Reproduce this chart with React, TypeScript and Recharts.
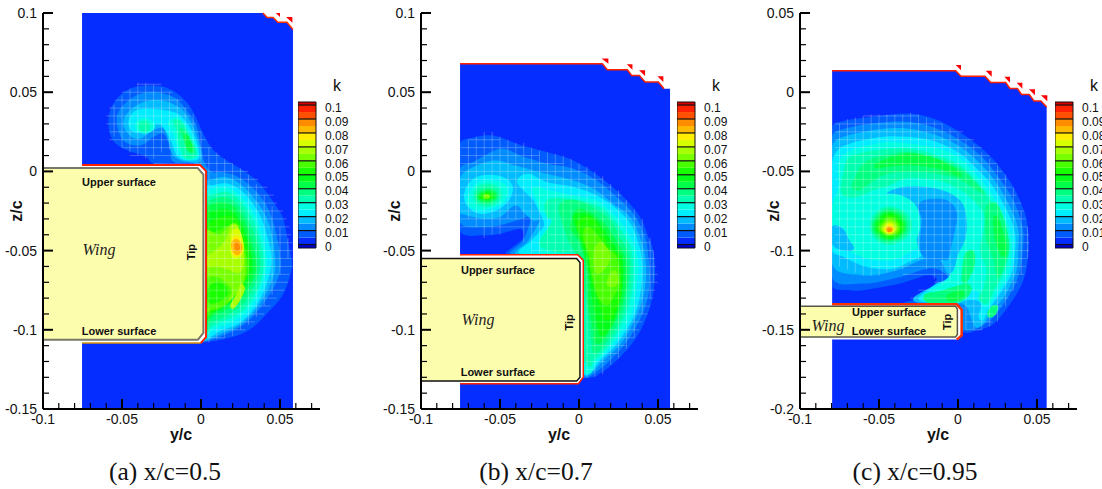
import React from 'react';
import { ScatterChart, Scatter, XAxis, YAxis, ReferenceArea } from 'recharts';

type Pair = [number, number];

/* ---------- colour scale of k ---------- */
const bandColors = ['#062dff', '#005cff', '#008cff', '#00bcff', '#00ecff', '#00ffe0', '#00ffb0', '#00ff80', '#00ff48', '#00ff18', '#18ff00', '#48ff00', '#78ff00', '#a8ff00', '#d8ff00', '#ffee00', '#ffb800', '#ff8c00', '#ff5000', '#ff2000'];
const legendEdges = [-0.0025, 0, 0.005, 0.01, 0.015, 0.02, 0.025, 0.03, 0.035, 0.04, 0.045, 0.05, 0.055, 0.06, 0.065, 0.07, 0.075, 0.08, 0.085, 0.09, 0.095, 0.1, 0.1022];
const legendFill = ['#0000d0', ...bandColors, '#d80000'];
const legendTicks = [0, 0.01, 0.02, 0.03, 0.04, 0.05, 0.06, 0.07, 0.08, 0.09, 0.1];

/* ---------- axes ---------- */
const yCTicks = [-0.1, -0.09, -0.08, -0.07, -0.06, -0.05, -0.04, -0.03, -0.02, -0.01, 0, 0.01, 0.02, 0.03, 0.04, 0.05, 0.06, 0.07];
const yCMajor = [-0.1, -0.05, 0, 0.05];
const zTicksAB = [-0.15, -0.14, -0.13, -0.12, -0.11, -0.1, -0.09, -0.08, -0.07, -0.06, -0.05, -0.04, -0.03, -0.02, -0.01, 0, 0.01, 0.02, 0.03, 0.04, 0.05, 0.06, 0.07, 0.08, 0.09, 0.1];
const zMajorAB = [-0.15, -0.1, -0.05, 0, 0.05, 0.1];
const zTicksC = [-0.2, -0.19, -0.18, -0.17, -0.16, -0.15, -0.14, -0.13, -0.12, -0.11, -0.1, -0.09, -0.08, -0.07, -0.06, -0.05, -0.04, -0.03, -0.02, -0.01, 0, 0.01, 0.02, 0.03, 0.04, 0.05];
const zMajorC = [-0.2, -0.15, -0.1, -0.05, 0, 0.05];

/* All contour coordinates below are [y/c, z/c] in thousandths. */

/* ---------- panel (a) x/c=0.5 ---------- */
const aField: Pair[] = [[-75.3, 100], [39.2, 100], [41.8, 97.2], [45.6, 97.2], [48.7, 94.1], [54.4, 94.1], [58.2, 89.6], [58.2, -150], [-75.3, -150]];
const aMask: Pair[] = [[-100, 100], [-75.3, 100], [-75.3, -150], [-100, -150]];
const aStairs: Pair[] = [[39.2, 100], [41.8, 97.2], [45.6, 97.2], [48.7, 94.1], [54.4, 94.1], [58.2, 89.6]];
const aFlags: Pair[][] = [[[47.3, 100], [50, 100], [50, 97.4]], [[53.8, 97.4], [57.8, 97.4], [57.8, 93.9]]];
const aOutline: Pair[] = [[-75.3, 4], [-0.6, 4], [3.2, 0.2], [3.2, -104.6], [-0.2, -108.4], [-75.3, -108.4]];
const aRed: Pair[] = [[-75.3, 4], [-0.6, 4], [3.2, 0.2], [3.2, -104.6], [-0.2, -108.4]];
const aOrange: Pair[] = [[-0.2, -108.4], [-75.3, -108.4]];
const aWing: Pair[] = [[-100, 2.1], [-2, 2.1], [1.5, -2], [1.5, -102], [-2, -106.3], [-100, -106.3]];

const aL1: Pair[] = [[-58.6, 32.2], [-55.5, 42.7], [-47, 51.2], [-35.4, 54.3], [-21.7, 52.8], [-11.2, 45.9], [-4.9, 37.5], [1.5, 23.8], [7.8, 13.3], [16.2, 6.9], [26.8, 0.6], [37.3, -7.8], [47.9, -22.5], [52.1, -30], [55.7, -47.8], [57.4, -60.4], [52.1, -77.3], [41.6, -89.9], [30, -100.4], [15.2, -105.7], [1.5, -107.8], [-5, -105], [-5, -10], [-0.6, 4.8], [-30, 4.8], [-35, 9.5], [-47, 13.5], [-56, 20]];
const aL2: Pair[] = [[-53.4, 32.2], [-50.2, 40.6], [-40.7, 48], [-30.2, 50.1], [-17.5, 46.9], [-9.1, 38.5], [-2.7, 28], [0.4, 13.3], [2.5, 4.8], [6.8, -0.4], [13, -0.4], [23.6, -3.6], [36.3, -14.1], [44.7, -28.8], [50, -52], [49, -66.7], [39.5, -83.6], [27.8, -96.2], [14, -103.6], [0.4, -107.8], [-5, -105], [-5, -5], [-3, 4.5], [-17.5, 6], [-19.6, 15.4], [-23.8, 23.8], [-30.2, 21.7], [-38.6, 16.4], [-49.2, 19.6]];
const aU3: Pair[] = [[-49.2, 30.1], [-46, 37.5], [-36.5, 43.8], [-24.9, 44.8], [-14.3, 40.6], [-7, 32.2], [-1.7, 19.6], [-0.2, 7], [-9, 5.9], [-17.5, 10], [-20.7, 19.6], [-23.8, 27], [-30.2, 25.9], [-38.6, 20.6], [-45, 22.7]];
const aU4: Pair[] = [[-46, 30.1], [-42.8, 37.5], [-34.4, 39.6], [-21.7, 38.5], [-13.3, 35.4], [-4.9, 23.8], [-1.1, 9], [-9.1, 7], [-15.4, 10.1], [-19.6, 20.6], [-24.9, 29], [-30.2, 29], [-36.5, 24.8], [-42.8, 24.8]];
const aU5a: Pair[] = [[-41.8, 28.4], [-36.5, 33.9], [-29.1, 29], [-35.4, 23.8]];
const aU5b: Pair[] = [[-20.7, 31.2], [-13.3, 33.3], [-5.9, 21.7], [-1.7, 10], [-10.1, 7.4], [-14.3, 13.3], [-17.5, 23.8]];
const aU6a: Pair[] = [[-39.7, 28.4], [-36, 32.2], [-31.9, 28.4], [-35.9, 24.8]];
const aU6b: Pair[] = [[-17.5, 32.2], [-12.2, 31.2], [-5.9, 20.6], [-2.7, 11.2], [-9.1, 8], [-13.3, 15.4], [-15.4, 25.9]];
const aU7: Pair[] = [[-13.3, 26.9], [-9.1, 23.8], [-4.9, 15.4], [-4.9, 11.2], [-9.1, 13.3], [-11.2, 19.6]];
const aU8: Pair[] = [[-10, 23.5], [-6, 18], [-5, 13], [-8, 13], [-10, 18]];
const aD3: Pair[] = [[4.6, -5.7], [15.2, -3.6], [25.7, -8.8], [36.3, -20.4], [43.7, -35.2], [46.8, -54], [45.8, -66.7], [37.3, -83.6], [25.7, -96.2], [13, -102.5], [0.4, -107.8], [-5, -105], [-5, -5]];
const aD4: Pair[] = [[5.7, -8.8], [17.3, -7.8], [27.8, -14.1], [37.3, -27.8], [42.6, -43.6], [44.7, -56.2], [41.6, -70.9], [34.2, -85.7], [23.6, -96.2], [13, -100.4], [1.5, -106.7], [-5, -105], [-5, -8]];
const aD5: Pair[] = [[4.6, -12], [14.1, -9.9], [24.7, -15.2], [35.2, -29.9], [40.5, -47.8], [41.6, -60.4], [37.3, -75.2], [30, -87.8], [19.4, -95.2], [8.9, -99.4], [1.5, -104.6], [-4, -100], [-4, -14]];
const aD6: Pair[] = [[4.6, -15.2], [15.2, -13], [23.6, -17.3], [33.1, -31], [38.4, -47.8], [39.5, -60.4], [36.3, -73], [27.8, -86.7], [17.3, -93], [7.8, -97.3], [2.5, -102.5], [-4, -98], [-4, -16]];
const aD7: Pair[] = [[4.6, -18.3], [14.1, -16.2], [22.8, -20.4], [31, -33], [36.3, -48.8], [37.3, -60.4], [34.2, -70.9], [26.8, -83.6], [16.2, -90.9], [6.8, -95.2], [3, -100.4], [-4, -96], [-4, -19]];
const aD8: Pair[] = [[4.2, -21.5], [13, -19.4], [21.5, -22.5], [28.9, -34.1], [33.1, -48.8], [35.2, -60.4], [32.1, -69.9], [24.7, -81.5], [15.2, -87.8], [6.8, -92], [3.4, -96.2], [-4, -92], [-4, -22]];
const aD9: Pair[] = [[4.2, -25.7], [13, -23.6], [20.5, -25.7], [26.8, -35.2], [31, -48.8], [32.5, -60.4], [30, -68.8], [22.6, -79.4], [14.1, -85.7], [6.8, -90], [3.4, -94], [-4, -90], [-4, -26]];
const aD10: Pair[] = [[4.2, -33], [12, -28.8], [20.5, -28.8], [25.7, -36.2], [29.5, -48.8], [31, -60.4], [27.8, -68.8], [21.1, -77.3], [14.1, -85], [7, -89], [3.4, -92], [-4, -88], [-4, -34]];
const aD11: Pair[] = [[4.2, -39.4], [11, -37.3], [17.3, -34.1], [23.6, -35.2], [27.8, -48.8], [29.5, -60.4], [27, -71], [21, -79], [14, -85.5], [6, -88], [3, -90], [-4, -86], [-4, -40]];
const aD12: Pair[] = [[3.8, -37], [11, -40], [15.2, -37], [19.4, -33], [23.6, -34.1], [26.8, -47.8], [28, -60.4], [26, -72], [21, -79], [14, -84.5], [6, -87], [3.5, -88], [-4, -85], [-4, -40]];
const aD13: Pair[] = [[15.2, -43.6], [19.4, -34], [23.6, -35], [26.8, -47.8], [27, -58.3], [24, -64], [17, -62], [10, -60], [4, -60], [3.5, -54], [9, -50]];
const aPocketOuter: Pair[] = [[3.8, -66.7], [11, -66.7], [19, -74], [18, -80], [13, -85.7], [4.6, -86.7], [-3, -85], [-3, -68]];
const aPocketInner: Pair[] = [[4.6, -74], [11, -69.9], [17.3, -76.2], [11, -82.5], [4.6, -82.5]];
const aArm: Pair[] = [[25.3, -71], [27.8, -74], [24.7, -81.5], [20.5, -86.7], [18.4, -84.6], [22.6, -77.3]];
const aP14: Pair[] = [[18.4, -46.7], [21.5, -36.2], [26.8, -44.6], [25.7, -53], [20.5, -55.2]];
const aP15: Pair[] = [[19, -46.7], [22, -40.4], [26, -46], [25.3, -52], [20.5, -53]];
const aP16: Pair[] = [[19, -47], [22.1, -42.5], [26.3, -47.8], [22.6, -53]];
const aP17: Pair[] = [[21.1, -47.4], [22.6, -44.6], [24.7, -48.2], [22.6, -50.3]];

const aLayers: [number, Pair[]][] = [[1, aL1], [2, aL2], [3, aU3], [4, aU4], [5, aU5a], [5, aU5b], [6, aU6a], [6, aU6b], [7, aU7], [8, aU8], [3, aD3], [4, aD4], [5, aD5], [6, aD6], [7, aD7], [8, aD8], [9, aD9], [10, aD10], [11, aD11], [12, aD12], [13, aD13], [11, aPocketOuter], [10, aPocketInner], [13, aArm], [14, aP14], [15, aP15], [16, aP16], [17, aP17]];

const aMeshH = [[55, -40, -25], [50, -50, -18], [45, -54, -12], [40, -58, -8], [35, -60, -6], [30, -60, -3], [25, -58, 0], [20, -58, 3], [15, -50, 7], [10, -45, 12], [5, -30, 20], [0, 5, 30], [-5, 5, 36], [-10, 5, 42], [-15, 5, 46], [-20, 5, 48], [-25, 5, 52], [-30, 5, 54], [-35, 5, 56], [-40, 5, 57], [-45, 5, 58], [-50, 5, 58], [-55, 5, 59], [-60, 5, 58], [-65, 5, 56], [-70, 5, 55], [-75, 5, 53], [-80, 5, 48], [-85, 5, 44], [-90, 5, 40], [-95, 5, 34], [-100, 5, 28], [-105, 5, 15]];
const aMeshV = [[-55, 22, 42], [-50, 15, 48], [-45, 12, 52], [-40, 10, 56], [-35, 8, 56], [-30, 8, 55], [-25, 12, 53], [-20, 14, 50], [-15, 10, 46], [-10, 8, 40], [-5, 8, 36], [0, 5, 25], [5, -108, 15], [10, -106, 12], [15, -105, 8], [20, -104, 5], [25, -100, 2], [30, -97, -2], [35, -92, -8], [40, -85, -15], [45, -78, -22], [50, -65, -35], [55, -55, -42]];

const aLabels = [
  { y: -0.0519, z: -0.007, text: 'Upper surface', kind: 'bold' },
  { y: -0.0519, z: -0.101, text: 'Lower surface', kind: 'bold' },
  { y: -0.0646, z: -0.0499, text: 'Wing', kind: 'wing' },
  { y: -0.0063, z: -0.051, text: 'Tip', kind: 'tip' },
];

/* ---------- panel (b) x/c=0.7 ---------- */
const bField: Pair[] = [[-75.3, 68], [14.8, 68], [17.9, 64.2], [30.6, 64.2], [33.3, 60.6], [38.2, 60.6], [41.8, 56.4], [50.2, 56.4], [53.8, 52.2], [57.6, 52.2], [57.6, -150], [-75.3, -150]];
const bMask: Pair[] = [[-100, 68], [-75.3, 68], [-75.3, -150], [-100, -150]];
const bStairs: Pair[] = [[-75.3, 68], [14.8, 68], [17.9, 64.2], [30.6, 64.2], [33.3, 60.6], [38.2, 60.6], [41.8, 56.4], [50.2, 56.4], [53.8, 52.2]];
const bFlags: Pair[][] = [[[14.3, 71.2], [18.6, 71.2], [18.6, 68]], [[30.2, 67.6], [33.8, 67.6], [33.8, 64.2]], [[38, 63.8], [41.8, 63.8], [41.8, 60.2]], [[49.6, 60], [53.4, 60], [53.4, 56.4]]];
const bOutline: Pair[] = [[-75.3, -52.6], [-0.8, -52.6], [2.7, -56.2], [2.7, -130], [-0.4, -134], [-75.3, -134]];
const bRed: Pair[] = [[-75.3, -52.6], [-0.8, -52.6], [2.7, -56.2], [2.7, -130], [-0.4, -134], [-75.3, -134]];
const bWing: Pair[] = [[-100, -55], [-1.5, -55], [0.6, -57.5], [0.6, -130], [-1.5, -132.4], [-100, -132.4]];

const bL1: Pair[] = [[-75.3, 17.5], [-67.9, 21.3], [-54.2, 22.7], [-39.5, 17.5], [-20.5, 12.2], [-3.6, 6.9], [13.3, -3.6], [28.1, -16.2], [38.6, -28.8], [43.9, -41.5], [47, -49.9], [48.1, -66.7], [44.9, -85.7], [36.5, -104.6], [23.8, -119.4], [11.2, -128.8], [3.2, -130], [0, -125], [0, -55], [-1.5, -52.6], [-45.8, -52], [-40.5, -46.7], [-35.2, -41.5], [-37.3, -36.2], [-50, -39.4], [-60.5, -40.4], [-75.3, -37.3]];
const bL2: Pair[] = [[-75.3, 1.7], [-66.9, 5.9], [-50, 14.3], [-37.3, 10.1], [-20.5, 5], [-3.6, 1.7], [11.2, -5.7], [23.8, -16.2], [34.4, -26.7], [41.8, -41.5], [43.9, -54], [44.9, -68.8], [41.8, -85.7], [32.3, -104.6], [19.6, -119.4], [7, -129.5], [2.7, -130], [0, -125], [0, -58], [-0.4, -52.6], [-42.6, -52.6], [-35.2, -43.5], [-31, -32], [-32, -28.8], [-39.5, -31], [-50, -34], [-60.5, -35.2], [-75.3, -32]];
const bL3: Pair[] = [[-75.3, -4.6], [-68.9, 1.7], [-54.2, 6.9], [-40.5, 3.8], [-20.5, -1.5], [-3.6, -5.7], [9.1, -10.9], [21.7, -20.4], [32.3, -28.8], [38.6, -41.5], [41.8, -54], [42.3, -68.8], [38.6, -85.7], [28, -106.7], [15.4, -119.4], [5.9, -128.8], [0, -125], [0, -58], [-1.5, -53.7], [-39.5, -52.6], [-32, -43.5], [-24.7, -31], [-28.9, -31], [-34.2, -26.7], [-40.5, -21.5], [-50, -28.8], [-60.5, -29.9], [-71, -27.8], [-75.3, -25.7]];
const bV4: Pair[] = [[-72.2, -12], [-64.8, -3.6], [-52.1, -2.5], [-42.6, -7.8], [-43.7, -17.3], [-52.1, -24.6], [-62.7, -26.7], [-71.1, -21.5]];
const bA4: Pair[] = [[-39, -5.7], [-32, -1.5], [-20.5, -6.7], [-3.6, -9.9], [11.2, -15.2], [23.8, -23.6], [33.3, -34.1], [37.6, -45.7], [39.7, -54], [39.7, -71], [35.4, -89.9], [24.9, -107.7], [13.3, -119.4], [5.9, -128.2], [0, -125], [0, -58], [-3, -55], [-37.3, -52], [-30, -43.5], [-22.6, -35.2], [-22.6, -31], [-28.9, -18.3], [-35.2, -12]];
const bV5: Pair[] = [[-70, -15.2], [-63.7, -6.7], [-53.2, -5.7], [-45.4, -9.9], [-46.8, -18.3], [-53.2, -22.5], [-62.7, -24.6], [-69.9, -21.5]];
const bA5: Pair[] = [[-28.9, -9.9], [-18.4, -12], [-3.6, -15.2], [11.2, -18.3], [21.7, -26.7], [30.2, -37.3], [35.4, -47.8], [37.6, -58.3], [36.5, -73], [32.3, -91.9], [21.7, -108.8], [11.2, -120.4], [5.9, -127.8], [0, -120], [0, -60], [-23.6, -52], [-24.7, -42.5], [-17.3, -31], [-24.7, -24.6], [-26.8, -18.3]];
const bV6: Pair[] = [[-66.9, -15.2], [-62.7, -8.8], [-54.2, -8.2], [-48.9, -13], [-51, -19.4], [-58.4, -22.5], [-64.8, -20.4]];
const bA6: Pair[] = [[-20.5, -18.3], [-5.7, -17.3], [11.2, -21.5], [20.7, -28.8], [28.1, -39.4], [33.3, -49.9], [34.4, -62.5], [33.3, -77.2], [28.1, -94], [18.6, -110], [9.1, -119.4], [7, -123.5], [3, -118], [0, -60], [-1.5, -52], [-14, -51], [-24.7, -46.7], [-20.5, -37.2], [-17.3, -31], [-20.5, -28.8]];
const bA7: Pair[] = [[-12, -20.4], [-1.5, -18.3], [10.1, -23.6], [19.6, -30.9], [25.9, -41.5], [31.2, -52], [32.3, -62.5], [30.2, -79.4], [25.9, -94], [17.5, -107.7], [10.1, -115], [8, -108.8], [5.9, -94], [3.2, -73], [0.6, -58], [-6.8, -43.5], [-9.9, -35.2], [-11, -31]];
const bA8: Pair[] = [[-5.7, -35.2], [-2.5, -24.6], [4.9, -24.6], [15.4, -32], [22.8, -42.5], [29.1, -54], [30.2, -66.7], [28.1, -81.5], [23.8, -93], [17.5, -103.6], [11.2, -108.8], [9.1, -100.4], [5.9, -83.6], [4.9, -62.5], [0.6, -45.7], [-3.6, -39.4]];
const bA9: Pair[] = [[-3.6, -28.8], [4.9, -26.7], [13.3, -33], [21.7, -45.7], [27.6, -56.2], [27.6, -73], [24.5, -87.8], [18.6, -100.4], [13.3, -103.6], [9.1, -85.7], [5.9, -62.5], [1.7, -45.7]];
const bA10: Pair[] = [[-1.5, -32], [7, -28.8], [13.3, -36.2], [19.6, -47.8], [25.9, -54], [26.9, -75], [23.8, -86.7], [17.5, -94], [13.3, -85.7], [8, -68.8], [5.9, -54], [1.7, -43.5]];
const bA11: Pair[] = [[4.9, -35], [11.2, -39.4], [17.5, -47.8], [23.8, -54], [25.9, -70.9], [21.7, -79.4], [17.5, -84.6], [12.2, -79.4], [8, -64.6], [5.9, -52], [2.7, -41.5]];
const bA12a: Pair[] = [[10.1, -47.7], [14.3, -44.6], [19.6, -52], [18.6, -58.3], [15.4, -62.5], [11.2, -64.6], [9.1, -56.2]];
const bA12b: Pair[] = [[17.5, -70.9], [21.7, -62.5], [24.9, -68.8], [21.7, -73]];
const bV7: Pair[] = [[-65.2, -15.2], [-60.5, -10.9], [-54.2, -10.9], [-51, -15.2], [-54.2, -19.4], [-60.5, -20.4]];
const bV8: Pair[] = [[-64.3, -15.8], [-59.5, -12], [-54.6, -12.4], [-52.1, -15.8], [-55.3, -18.7], [-60.5, -19.2]];
const bV9: Pair[] = [[-63.3, -15.8], [-58.9, -13], [-55.3, -13.7], [-53.4, -15.8], [-56.3, -17.7], [-60.5, -17.9]];
const bV10: Pair[] = [[-62, -15.8], [-58.4, -13.7], [-55.3, -15.2], [-56.3, -17], [-60.1, -17.5]];
const bV12: Pair[] = [[-60.5, -15.8], [-58.4, -14.5], [-56.3, -15.8], [-58.4, -17.3]];

const bLayers: [number, Pair[]][] = [[1, bL1], [2, bL2], [3, bL3], [4, bV4], [4, bA4], [5, bV5], [5, bA5], [6, bV6], [6, bA6], [7, bA7], [8, bA8], [9, bA9], [10, bA10], [11, bA11], [12, bA12a], [12, bA12b], [7, bV7], [8, bV8], [9, bV9], [10, bV10], [12, bV12]];

const bMeshH = [[20, -70, -50], [15, -75, -35], [10, -75, -25], [5, -75, -10], [0, -75, 5], [-5, -75, 15], [-10, -75, 20], [-15, -75, 27], [-20, -75, 30], [-25, -75, 33], [-30, -75, 37], [-35, -75, 40], [-40, -20, 43], [-45, -30, 45], [-50, -30, 47], [-55, 5, 48], [-60, 5, 49], [-65, 5, 50], [-70, 5, 50], [-75, 5, 48], [-80, 5, 47], [-85, 5, 45], [-90, 5, 43], [-95, 5, 40], [-100, 5, 38], [-105, 5, 35], [-110, 5, 30], [-115, 5, 25], [-120, 5, 17], [-125, 5, 10]];
const bMeshV = [[-70, -30, 20], [-65, -35, 22], [-60, -42, 25], [-55, -40, 25], [-50, -40, 22], [-45, -30, 20], [-40, -30, 18], [-35, -45, 18], [-30, -52, 15], [-25, -52, 13], [-20, -52, 12], [-15, -52, 11], [-10, -52, 10], [-5, -52, 8], [0, -52, 5], [5, -130, 3], [10, -130, 0], [15, -128, -3], [20, -122, -8], [25, -118, -12], [30, -112, -18], [35, -105, -24], [40, -90, -30], [45, -80, -42], [47, -70, -50]];

const bLabels = [
  { y: -0.0513, z: -0.0625, text: 'Upper surface', kind: 'bold' },
  { y: -0.0513, z: -0.1269, text: 'Lower surface', kind: 'bold' },
  { y: -0.0639, z: -0.094, text: 'Wing', kind: 'wing' },
  { y: -0.0063, z: -0.0953, text: 'Tip', kind: 'tip' },
];

/* ---------- panel (c) x/c=0.95 ---------- */
const cField: Pair[] = [[-79.7, 13.5], [-1.5, 13.5], [1.9, 10.1], [17.1, 10.1], [20.7, 6.1], [30.2, 6.1], [32.9, 2.3], [37.6, 2.3], [40.3, -1.5], [45.1, -1.5], [48.1, -5.5], [52.5, -5.5], [56.1, -9.3], [56.1, -200], [-79.7, -200]];
const cMask: Pair[] = [[-100, 50], [-79.7, 50], [-79.7, -200], [-100, -200]];
const cStairs: Pair[] = [[-79.7, 13.5], [-1.5, 13.5], [1.9, 10.1], [17.1, 10.1], [20.7, 6.1], [30.2, 6.1], [32.9, 2.3], [37.6, 2.3], [40.3, -1.5], [45.1, -1.5], [48.1, -5.5], [52.5, -5.5], [56.1, -9.3]];
const cFlags: Pair[][] = [[[-1.5, 17.1], [1.9, 17.1], [1.9, 13.9]], [[17.5, 13.5], [21.3, 13.5], [21.3, 9.7]], [[29.3, 9.7], [32.9, 9.7], [32.9, 5.9]], [[37.1, 5.9], [40.7, 5.9], [40.7, 2.1]], [[44.9, 1.9], [48.7, 1.9], [48.7, -1.9]], [[52.5, -1.9], [56.5, -1.9], [56.5, -5.7]]];
const cOutline: Pair[] = [[-79.7, -133.9], [-0.8, -133.9], [2.3, -137.3], [2.3, -153.5], [-0.8, -156.2], [-79.7, -156.2]];
const cRed: Pair[] = [[-79.7, -133.9], [-0.8, -133.9], [2.3, -137.3], [2.3, -153.5], [-0.8, -156.2]];
const cWing: Pair[] = [[-100, -135.2], [-1.5, -135.2], [-0.4, -137], [-0.4, -153], [-1.5, -154.5], [-100, -154.5]];

const cL1: Pair[] = [[-79.7, -22.3], [-70.5, -17.7], [-51.5, -15.2], [-31.4, -13.5], [-15.6, -16.6], [-0.8, -24], [13.9, -34.5], [24.5, -45], [35, -59.8], [42.4, -76.6], [44.5, -89.3], [44.5, -101.9], [41.4, -118.7], [33, -133.5], [22.4, -146.3], [11.8, -150.5], [3.4, -151.6], [0, -145], [0, -134], [-33.5, -133.5], [-24, -129.3], [-13.5, -118.7], [-19.8, -115.6], [-36.7, -120.8], [-60, -125], [-68.3, -125], [-79.7, -121.9]];
const cL2: Pair[] = [[-79.7, -28.2], [-71.5, -22.9], [-51.5, -19.4], [-31.4, -18.7], [-13.5, -22.9], [1.3, -30.3], [15, -40.8], [25.5, -53.5], [35, -68.2], [40.3, -82.9], [41.4, -93.5], [39.2, -112.4], [33, -127.2], [22.4, -141.9], [13.9, -148.2], [5.5, -150.3], [0, -148], [0, -136], [-23, -130], [-13.5, -123], [-6.1, -118.7], [-11.4, -112.4], [-19.8, -111.4], [-36.7, -116.6], [-60, -120.8], [-79.7, -116.6]];
const cL3: Pair[] = [[-79.7, -34.5], [-72.6, -28.2], [-51.5, -23.6], [-32.5, -22.9], [-13.5, -27.2], [1.3, -34.5], [13.9, -45], [24.5, -57.7], [34, -74.5], [38.2, -87.2], [38.2, -97.7], [37, -112.4], [30.4, -127.2], [22.4, -137.7], [16, -146.3], [10.8, -148.2], [5.5, -135.6], [-0.8, -133], [-21.9, -133.5], [-28.3, -130.3], [-16.7, -122.9], [-6.1, -116.6], [-8.2, -110.3], [-13.5, -104], [-23.8, -106.1], [-38.6, -112.4], [-60, -115.6], [-79.7, -108.2]];
const cL4: Pair[] = [[-79.7, -45], [-73.6, -34.5], [-51.5, -28.6], [-31.4, -28.2], [-13.5, -31.4], [1.3, -38.7], [11.8, -48.2], [22.4, -59.8], [31.9, -76.6], [36.1, -89.3], [36.1, -99.8], [33.9, -114.5], [26.5, -127.2], [19.1, -137.7], [16, -144], [12.9, -141.9], [14, -133], [5.5, -131.3], [-0.8, -133.5], [-21.9, -132.4], [-25, -129.7], [-13.5, -120.8], [-5, -116.6], [-11.4, -100.8], [-28.3, -106], [-41, -111.4], [-57.9, -110.3], [-72.6, -103.9], [-79.7, -99.8]];
const cL5: Pair[] = [[-79.7, -72.4], [-75.7, -59.8], [-73.6, -40.8], [-51.5, -32.4], [-31.4, -32.4], [-12.4, -35.6], [1.3, -41.9], [11.8, -52.4], [20.3, -62.9], [29.7, -78.7], [34, -91.4], [34, -101.9], [31.9, -114.5], [24.5, -127.2], [17.1, -135.6], [13.9, -127.2], [5.5, -125], [1.3, -131.3], [-21.9, -131.3], [-19.8, -127.2], [-5, -115.4], [-7, -102], [-9, -93.5], [-13.5, -93.5], [-28.3, -99.8], [-41, -106], [-57.9, -105], [-72.6, -98.7], [-79.7, -95.6]];
const cLeftLobe: Pair[] = [[-79.7, -85], [-73, -86], [-69, -93], [-66, -99], [-72, -100], [-79.7, -96]];
const cPocketA: Pair[] = [[-45.1, -63.6], [-34.6, -59.8], [-13.5, -60.8], [1.3, -68.2], [5.5, -80.8], [4.4, -93.5], [0.2, -101.9], [-5, -114.5], [-11.4, -106.1], [-21.9, -103], [-26.2, -93.5], [-25, -82.9], [-28.3, -74.5], [-34.6, -68.2], [-40.9, -66.1]];
const cPocketB: Pair[] = [[-25.1, -71.4], [-19.8, -67.8], [-7.2, -68.2], [-0.8, -75.6], [-1.9, -87.2], [-6.1, -105.1], [-9.3, -106], [-21.9, -104], [-24, -93.5], [-23, -80.8]];
const cArc6: Pair[] = [[-73.6, -64], [-72.6, -51.4], [-68.4, -40.8], [-51.5, -36.6], [-31.4, -35.6], [-13.5, -39.8], [1.3, -46.1], [11.8, -56.6], [19.2, -66.1], [27.6, -80.8], [31.9, -93.5], [31.9, -104], [28.7, -114.5], [22.4, -126.1], [18.1, -133.5], [13, -130], [16, -124], [18, -112], [14, -100], [16, -88], [16, -76.6], [7.6, -66.1], [-1.9, -59.8], [-13.5, -55.6], [-32.5, -54.5], [-43, -58.7], [-53.6, -61.9], [-64, -66.1]];
const cArc7: Pair[] = [[-67.3, -59.8], [-64.1, -51.4], [-59.9, -45], [-51.5, -40.8], [-31.4, -37.7], [-13.5, -41.9], [1.3, -48.2], [11.8, -57.7], [16, -64], [1.3, -55.6], [-13.5, -51.4], [-32.5, -50.3], [-47.3, -52.4], [-62, -61.9]];
const cArc8: Pair[] = [[-52.5, -45], [-32.5, -38.6], [-13.5, -41.9], [1.3, -50.3], [1.3, -53.5], [-13.5, -48.2], [-32.5, -46.1], [-51.5, -48.2]];
const cRight7: Pair[] = [[18.1, -71.4], [24.5, -70.3], [29.7, -81.9], [32.5, -95.6], [31.9, -101.9], [27.7, -114.5], [24.5, -116.6], [22.4, -106], [18, -93.5], [17, -80.8]];
const cRight8: Pair[] = [[22.4, -78.7], [25.5, -78.7], [29.7, -91.4], [30.8, -97.7], [29, -104], [24.5, -97], [22.4, -86]];
const cMid7: Pair[] = [[4.4, -102], [9.7, -100], [10.8, -108.2], [7.6, -116.6], [3.4, -120.8], [2.3, -114.5]];
const cLow7: Pair[] = [[-21.9, -130.3], [-9.3, -125], [5.5, -120.8], [8.6, -125], [3.4, -131.3], [-7.2, -133.5]];
const cLow8: Pair[] = [[-7, -128], [1.3, -125], [4.4, -127], [1.3, -131], [-6, -132]];
const cSpot7: Pair[] = [[19.2, -137.7], [22.4, -134.5], [25.5, -135.6], [23.4, -140.8], [19.2, -141.9]];

const cV5: Pair[] = [[-43.5, -64], [-28, -70], [-24, -84], [-28, -94], [-43.5, -100], [-58, -95], [-66, -84], [-60, -70]];
const cV6: Pair[] = [[-43.5, -72], [-33, -76], [-29, -84], [-33, -92], [-43.5, -96.6], [-52, -93], [-56, -84], [-52, -76]];
const cV7: Pair[] = [[-43.5, -73.5], [-34.5, -77], [-31.4, -85], [-35, -91.5], [-43.5, -94.5], [-51, -92], [-54.6, -85], [-51, -77]];
const cV8: Pair[] = [[-43.5, -75], [-36, -78], [-33, -85], [-36, -91], [-43.5, -93.5], [-50, -91], [-53.6, -85], [-50, -78]];
const cV9: Pair[] = [[-43.5, -76], [-37, -79], [-34, -85], [-37, -90], [-43.5, -92.5], [-49, -90], [-52, -85], [-49, -79]];
const cV10: Pair[] = [[-43.5, -77.6], [-38, -80], [-35.6, -85.5], [-38, -90], [-43.5, -91.4], [-48, -89.5], [-51, -85.5], [-48, -80]];
const cV11: Pair[] = [[-43.5, -78.7], [-39, -81], [-36.7, -86], [-39, -89.5], [-43.5, -90.7], [-47.5, -89], [-50, -86], [-47, -81]];
const cV12: Pair[] = [[-43.5, -80.2], [-39.5, -82], [-37.7, -86], [-39.5, -89], [-43.5, -90.3], [-47, -89], [-49, -86], [-46.5, -82]];
const cV13: Pair[] = [[-43.5, -81.5], [-40, -83], [-38.7, -86.5], [-43.5, -89.7], [-48, -86.5], [-46, -83]];
const cV14: Pair[] = [[-43.5, -82.5], [-39.6, -86.5], [-43.5, -89.3], [-47.3, -86.5]];
const cV15: Pair[] = [[-43.5, -83.6], [-40.5, -86.5], [-43.5, -88.8], [-46.3, -86.5]];
const cV16: Pair[] = [[-43.5, -84.6], [-41, -86.5], [-43.5, -88.6], [-45.7, -86.5]];
const cV17: Pair[] = [[-43.5, -85.5], [-41.7, -87], [-43.5, -88.4], [-45, -87]];

const cLayers: [number, Pair[]][] = [[1, cL1], [2, cL2], [3, cL3], [4, cL4], [5, cL5], [3, cLeftLobe], [3, cPocketA], [2, cPocketB], [6, cArc6], [7, cArc7], [8, cArc8], [7, cRight7], [8, cRight8], [7, cMid7], [7, cLow7], [8, cLow8], [7, cSpot7], [5, cV5], [6, cV6], [7, cV7], [8, cV8], [9, cV9], [10, cV10], [11, cV11], [12, cV12], [13, cV13], [14, cV14], [15, cV15], [16, cV16], [17, cV17]];

const cMeshH = [[-15, -60, -25], [-20, -78, -10], [-25, -78, 3], [-30, -78, 10], [-35, -78, 15], [-40, -78, 20], [-45, -78, 25], [-50, -78, 28], [-55, -78, 31], [-60, -78, 34], [-65, -78, 37], [-70, -78, 40], [-75, -78, 42], [-80, -78, 43], [-85, -78, 44], [-90, -78, 45], [-95, -78, 45], [-100, -78, 45], [-105, -75, 44], [-110, -55, 43], [-115, -35, 42], [-120, -15, 38], [-125, -25, 35], [-130, -30, 32], [-135, 5, 28], [-140, 5, 25], [-145, 5, 22], [-150, 5, 15]];
const cMeshV = [[-75, -110, -20], [-70, -112, -17], [-65, -114, -16], [-60, -116, -15], [-55, -116, -14], [-50, -116, -14], [-45, -114, -14], [-40, -113, -14], [-35, -112, -14], [-30, -108, -13], [-25, -106, -14], [-20, -112, -16], [-15, -118, -18], [-10, -122, -20], [-5, -120, -23], [0, -133, -26], [5, -150, -30], [10, -150, -33], [15, -150, -38], [20, -148, -42], [25, -145, -46], [30, -135, -52], [35, -125, -60], [40, -115, -75], [44, -105, -85]];

const cLabels = [
  { y: -0.0437, z: -0.1389, text: 'Upper surface', kind: 'bold' },
  { y: -0.0437, z: -0.1509, text: 'Lower surface', kind: 'bold' },
  { y: -0.0823, z: -0.1477, text: 'Wing', kind: 'wing' },
  { y: -0.007, z: -0.145, text: 'Tip', kind: 'tip' },
];

/* ---------- helpers ---------- */
const toPts = (pairs: Pair[]) => pairs.map(([y, z]) => ({ y: y / 1000, z: z / 1000 }));

/* Closed smooth path whose handles never outgrow the shorter neighbouring chord, so it cannot overshoot. */
const closedPath = (pts: { x: number; y: number }[], smooth: boolean) => {
  const n = pts.length;
  if (!smooth) return 'M' + pts.map((p) => `${p.x},${p.y}`).join('L') + 'Z';
  const dist = (a: any, b: any) => Math.hypot(a.x - b.x, a.y - b.y) || 1;
  const handle = (i: number) => {
    const prev = pts[(i - 1 + n) % n];
    const cur = pts[i];
    const next = pts[(i + 1) % n];
    const len = dist(prev, next);
    const m = Math.min(dist(prev, cur), dist(cur, next)) * 0.36;
    return { x: ((next.x - prev.x) / len) * m, y: ((next.y - prev.y) / len) * m };
  };
  let d = `M${pts[0].x},${pts[0].y}`;
  for (let i = 0; i < n; i++) {
    const a = pts[i];
    const b = pts[(i + 1) % n];
    const ha = handle(i);
    const hb = handle((i + 1) % n);
    d += `C${a.x + ha.x},${a.y + ha.y} ${b.x - hb.x},${b.y - hb.y} ${b.x},${b.y}`;
  }
  return d + 'Z';
};

const noDot = () => <g />;

const filled = (key: string, pairs: Pair[], fill: string, smooth = true, stroke = 'none', sw = 0) => (
  <Scatter
    key={key}
    data={toPts(pairs)}
    dataKey="z"
    isAnimationActive={false}
    shape={noDot}
    line={(p: any) => <path d={closedPath(p.points, smooth)} fill={fill} stroke={stroke} strokeWidth={sw} strokeLinejoin="round" />}
  />
);

const open = (key: string, pairs: Pair[], stroke: string, sw: number) => (
  <Scatter
    key={key}
    data={toPts(pairs)}
    dataKey="z"
    isAnimationActive={false}
    shape={noDot}
    line={(p: any) => <path d={'M' + p.points.map((q: any) => `${q.x},${q.y}`).join('L')} fill="none" stroke={stroke} strokeWidth={sw} />}
  />
);

const meshScatter = (key: string, h: number[][], v: number[][]) => {
  const ends: Pair[] = [];
  h.forEach(([z, a, b]) => { ends.push([a, z], [b, z]); });
  v.forEach(([y, a, b]) => { ends.push([y, a], [y, b]); });
  return (
    <Scatter
      key={key}
      data={toPts(ends)}
      dataKey="z"
      isAnimationActive={false}
      shape={noDot}
      line={(p: any) => {
        let d = '';
        for (let i = 0; i + 1 < p.points.length; i += 2) d += `M${p.points[i].x},${p.points[i].y}L${p.points[i + 1].x},${p.points[i + 1].y}`;
        return <path d={d} fill="none" stroke="#ffffff" strokeOpacity={0.25} strokeWidth={1} />;
      }}
    />
  );
};

const LabelShape = (p: any) => {
  const kind = p.payload?.kind ?? p.kind;
  const text = p.payload?.text ?? p.text;
  if (kind === 'wing') {
    return <text x={p.cx} y={p.cy} textAnchor="middle" dy=".3em" fontFamily="Liberation Serif" fontStyle="italic" fontSize={16} fill="#222">{text}</text>;
  }
  if (kind === 'tip') {
    return <text transform={`translate(${p.cx},${p.cy}) rotate(-90)`} textAnchor="middle" dy=".35em" fontFamily="Liberation Sans" fontWeight="bold" fontSize={11} fill="#111">{text}</text>;
  }
  return <text x={p.cx} y={p.cy} textAnchor="middle" dy=".35em" fontFamily="Liberation Sans" fontWeight="bold" fontSize={11} fill="#111">{text}</text>;
};

const same = (a: number, b: number) => Math.abs(a - b) < 1e-9;

const XTick = (p: any) => {
  const v = p.payload.value;
  const major = yCMajor.some((m) => same(m, v));
  return (
    <g>
      <line x1={p.x} x2={p.x} y1={p.y} y2={p.y - (major ? 10 : 6)} stroke="#000" strokeWidth={major ? 2 : 1.2} />
      {major ? <text x={p.x} y={p.y + 15} textAnchor="middle" fontFamily="Liberation Sans" fontSize={14} fill="#111">{String(v)}</text> : null}
    </g>
  );
};

const makeYTick = (majors: number[]) => (p: any) => {
  const v = p.payload.value;
  const major = majors.some((m) => same(m, v));
  return (
    <g>
      <line x1={p.x} x2={p.x + (major ? 10 : 6)} y1={p.y} y2={p.y} stroke="#000" strokeWidth={major ? 2 : 1.2} />
      {major ? <text x={p.x - 6} y={p.y} dy=".35em" textAnchor="end" fontFamily="Liberation Sans" fontSize={14} fill="#111">{String(v)}</text> : null}
    </g>
  );
};

const LegendTick = (p: any) => (
  <g>
    <line x1={p.x - 18} x2={p.x} y1={p.y} y2={p.y} stroke="#111" strokeWidth={1.2} />
    <text x={p.x + 9} y={p.y + 2.5} dy=".35em" fontFamily="Liberation Sans" fontSize={12} fill="#111">{String(p.payload.value)}</text>
  </g>
);

const legendAnchors = legendTicks.map((b) => ({ a: 0.5, b }));

const KLegend = ({ left }: { left: number }) => (
  <div style={{ position: 'absolute', left, top: 70 }}>
    <ScatterChart width={70} height={188} margin={{ top: 32, right: 0, bottom: 10, left: 0 }}>
      <XAxis type="number" dataKey="a" domain={[0, 1]} height={0} tick={false} axisLine={false} tickLine={false} />
      {legendFill.map((c, i) => (
        <ReferenceArea key={i} x1={0} x2={1} y1={legendEdges[i]} y2={legendEdges[i + 1]} fill={c} fillOpacity={1} stroke="none" ifOverflow="visible" />
      ))}
      <ReferenceArea x1={0} x2={1} y1={-0.0025} y2={0.1022} fill="none" stroke="#111" strokeWidth={1} ifOverflow="visible" />
      <Scatter data={legendAnchors} dataKey="b" isAnimationActive={false} shape={noDot} />
      <YAxis
        type="number"
        dataKey="b"
        orientation="right"
        width={52}
        domain={[-0.0025, 0.1022]}
        ticks={legendTicks}
        interval={0}
        axisLine={false}
        tickLine={false}
        tickSize={0}
        tickMargin={0}
        tick={LegendTick}
        label={() => <text x={39} y={21} textAnchor="middle" fontFamily="Liberation Sans" fontSize={16} fill="#111">k</text>}
      />
    </ScatterChart>
  </div>
);

type PanelProps = {
  left: number;
  zDomain: [number, number];
  zTicks: number[];
  zMajor: number[];
  caption: string;
  captionX: number;
  children: React.ReactNode;
};

const Panel = ({ left, zDomain, zTicks, zMajor, caption, captionX, children }: PanelProps) => (
  <div style={{ position: 'absolute', left, top: 0 }}>
    <ScatterChart width={330} height={489} margin={{ top: 13, right: 10, bottom: 0, left: 0 }}>
      {children}
      <XAxis
        type="number"
        dataKey="y"
        domain={[-0.1, 0.0753]}
        ticks={yCTicks}
        interval={0}
        height={80}
        stroke="#000"
        strokeWidth={2}
        tickLine={false}
        tickSize={0}
        tickMargin={0}
        tick={XTick}
        zIndex={2000}
        label={() => (
          <g>
            <text x={181} y={440} textAnchor="middle" fontFamily="Liberation Sans" fontWeight="bold" fontSize={16} fill="#111">y/c</text>
            <text x={captionX} y={480} textAnchor="middle" fontFamily="Liberation Serif" fontSize={25.5} fill="#111">{caption}</text>
          </g>
        )}
      />
      <YAxis
        type="number"
        dataKey="z"
        domain={zDomain}
        ticks={zTicks}
        interval={0}
        width={43}
        stroke="#000"
        strokeWidth={2}
        tickLine={false}
        tickSize={0}
        tickMargin={0}
        tick={makeYTick(zMajor)}
        zIndex={2000}
        label={() => (
          <text transform="translate(16,211) rotate(-90)" textAnchor="middle" dy=".35em" fontFamily="Liberation Sans" fontWeight="bold" fontSize={16} fill="#111">z/c</text>
        )}
      />
    </ScatterChart>
  </div>
);

const layerEls = (prefix: string, layers: [number, Pair[]][]) =>
  layers.map(([band, pts], i) => filled(`${prefix}${i}`, pts, bandColors[band]));

const flagEls = (prefix: string, flags: Pair[][]) =>
  flags.map((f, i) => filled(`${prefix}f${i}`, f, '#ff0000', false));

const textEl = (key: string, data: any[]) => (
  <Scatter key={key} data={data} dataKey="z" isAnimationActive={false} shape={LabelShape} />
);

export default function App() {
  return (
    <div style={{ position: 'absolute', left: 0, top: 0, width: 1102, height: 489, overflow: 'hidden', background: '#fff' }}>
      <Panel left={0} zDomain={[-0.15, 0.1]} zTicks={zTicksAB} zMajor={zMajorAB} caption="(a) x/c=0.5" captionX={165}>
        {filled('af', aField, bandColors[0], false)}
        {layerEls('a', aLayers)}
        {meshScatter('am', aMeshH, aMeshV)}
        {filled('amask', aMask, '#ffffff', false)}
        {open('as', aStairs, '#ff3000', 1.5)}
        {flagEls('a', aFlags)}
        {filled('ao', aOutline, '#ffffff', false)}
        {open('ar', aRed, '#ff2000', 2)}
        {open('aor', aOrange, '#d89000', 1.5)}
        {filled('aw', aWing, '#fdfdae', false, '#77776a', 2)}
        {textEl('al', aLabels)}
      </Panel>
      <Panel left={378} zDomain={[-0.15, 0.1]} zTicks={zTicksAB} zMajor={zMajorAB} caption="(b) x/c=0.7" captionX={158}>
        {filled('bf', bField, bandColors[0], false)}
        {layerEls('b', bLayers)}
        {meshScatter('bm', bMeshH, bMeshV)}
        {filled('bmask', bMask, '#ffffff', false)}
        {open('bs', bStairs, '#ff2000', 1.5)}
        {flagEls('b', bFlags)}
        {filled('bo', bOutline, '#ffffff', false)}
        {open('br', bRed, '#ff2000', 1.5)}
        {filled('bw', bWing, '#fdfdae', false, '#111111', 1.5)}
        {textEl('bl', bLabels)}
      </Panel>
      <Panel left={757} zDomain={[-0.2, 0.05]} zTicks={zTicksC} zMajor={zMajorC} caption="(c) x/c=0.95" captionX={158}>
        {filled('cf', cField, bandColors[0], false)}
        {layerEls('c', cLayers)}
        {meshScatter('cm', cMeshH, cMeshV)}
        {filled('cmask', cMask, '#ffffff', false)}
        {open('cs', cStairs, '#ff2000', 1.5)}
        {flagEls('c', cFlags)}
        {filled('co', cOutline, '#ffffff', false)}
        {open('cr', cRed, '#ff3000', 2.5)}
        {filled('cw', cWing, '#fdfdae', false, '#55554a', 1.5)}
        {textEl('cl', cLabels)}
      </Panel>
      <KLegend left={298} />
      <KLegend left={677} />
      <KLegend left={1055} />
    </div>
  );
}
